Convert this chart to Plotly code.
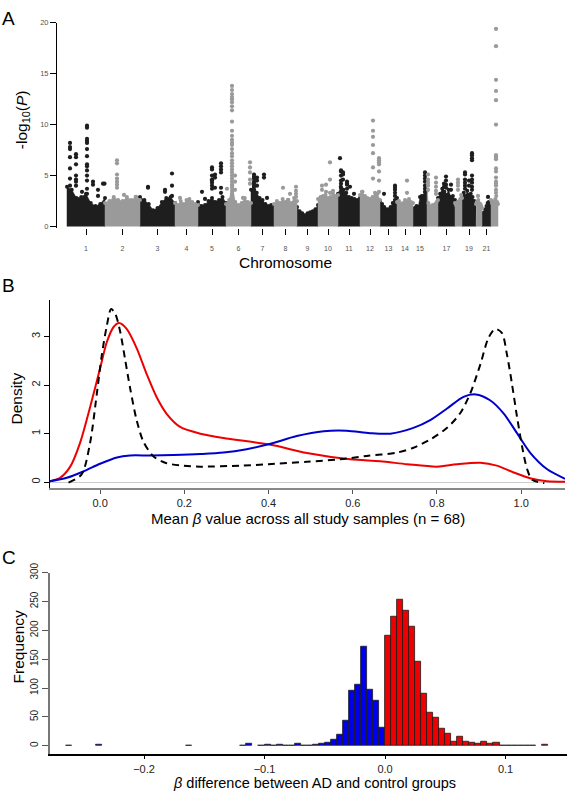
import plotly.graph_objects as go

W, H = 567, 796
FONT = "Liberation Sans, Arial, Helvetica, sans-serif"

# ---------------- Panel A : Manhattan plot ----------------
chrom_labels = ["1", "2", "3", "4", "5", "6", "7", "8", "9", "10", "11",
                "12", "13", "14", "15", "16", "17", "18", "19", "20", "21", "22"]
chrom_label_shown = [True] * 15 + [False, True, False, True, False, True, False]
# relative number of probes per chromosome (plot width units)
chrom_sizes = [380, 350, 350, 230, 280, 250, 230, 230, 210, 200, 220,
               200, 170, 160, 140, 110, 170, 70, 140, 60, 90, 70]
# upper edge of the dense point cloud (-log10 P) across each chromosome
chrom_envelope = [
    [3.9, 3.6, 2.8, 2.9, 3.2, 2.3, 2.0, 2.2, 2.8],
    [2.3, 2.5, 2.9, 2.6, 2.5, 2.9, 2.6, 2.9, 2.6],
    [2.9, 2.6, 2.2, 1.6, 1.8, 2.4, 2.8, 2.9, 2.3],
    [2.3, 2.1, 2.5, 2.2, 2.6, 2.7, 2.4, 2.2, 2.1],
    [2.4, 2.0, 2.1, 2.5, 2.8, 2.4, 2.6, 2.9, 2.3],
    [2.2, 2.6, 4.0, 2.4, 2.1, 2.3, 2.8, 2.4, 2.3],
    [3.6, 4.0, 3.3, 2.8, 2.6, 2.2, 2.0, 2.1, 1.9],
    [2.2, 2.5, 2.3, 2.7, 2.4, 2.6, 2.3, 2.8, 2.5],
    [1.9, 1.5, 1.3, 1.1, 1.3, 1.4, 1.5, 1.7, 2.1],
    [2.7, 2.9, 3.0, 3.1, 2.8, 2.9, 3.2, 3.0, 3.1],
    [3.2, 3.9, 3.6, 3.3, 2.9, 2.8, 2.7, 2.6, 2.8],
    [3.1, 3.4, 3.0, 2.8, 2.7, 2.9, 3.3, 3.2, 2.6],
    [2.5, 2.2, 1.9, 1.7, 1.7, 1.9, 2.3, 2.6, 2.8],
    [2.4, 2.5, 2.2, 2.3, 2.6, 2.5, 2.7, 2.4, 2.3],
    [1.7, 1.8, 2.0, 1.9, 2.9, 3.0, 3.0, 3.3, 3.6],
    [3.5, 2.3, 2.0, 1.9, 2.1, 2.0, 2.2, 2.4, 2.6],
    [2.8, 3.2, 3.7, 3.4, 3.1, 3.6, 2.9, 3.0, 2.6],
    [2.3, 2.1, 2.2, 2.4, 2.2, 2.5, 2.7, 3.1, 2.8],
    [2.8, 3.3, 3.0, 3.5, 3.1, 3.2, 2.9, 2.5, 2.4],
    [2.2, 2.4, 2.2, 2.6, 2.3, 2.1, 2.2, 2.0, 1.8],
    [1.3, 1.2, 1.4, 1.7, 2.0, 2.3, 2.4, 2.2, 2.0],
    [2.6, 2.3, 2.4, 2.2, 2.5, 2.7, 3.0, 2.4, 2.2],
]
# prominent probes: (chromosome, position within chromosome, -log10 P values)
outlier_chrom = [1, 1, 1, 1, 1, 1, 1, 1,
                 2, 2, 2,
                 3, 3, 3,
                 4,
                 5, 5, 5, 5, 5,
                 6, 6, 6, 6, 6,
                 7, 7, 7, 7,
                 8, 8, 8, 8,
                 10, 10, 10, 10,
                 11, 11, 11, 11, 11, 11,
                 12, 12, 12,
                 13, 13,
                 14,
                 15,
                 16, 16,
                 17, 17, 17,
                 18,
                 19, 19, 19,
                 20,
                 21,
                 22]
outlier_pos = [30, 90, 150, 200, 260, 310, 360, 375,
               120, 190, 310,
               80, 250, 320,
               50,
               40, 70, 140, 170, 230,
               10, 60, 90, 170, 240,
               30, 60, 130, 160,
               90, 140, 160, 220,
               40, 80, 120, 150,
               20, 30, 50, 90, 120, 160,
               20, 130, 190,
               40, 150,
               100,
               120,
               10, 90,
               60, 80, 130,
               30,
               30, 70, 100,
               20,
               60,
               50]
outlier_vals = [
    [8.2, 7.8, 7.6, 6.8, 5.7, 4.7, 4.0],
    [7.1, 6.8, 6.1, 5.0, 4.6, 4.4, 4.0],
    [3.4],
    [9.9, 9.7, 8.6, 8.4, 8.2, 7.6, 6.9, 6.1, 5.9, 5.5, 5.0, 4.5, 3.7, 3.2],
    [4.4, 4.1],
    [3.6, 3.0],
    [4.2],
    [4.2],
    [6.5, 6.2, 5.1, 4.7, 4.4, 4.1, 3.8],
    [3.1],
    [2.9],
    [3.9, 3.8],
    [3.6, 3.4],
    [5.2, 4.0, 3.0],
    [2.8],
    [3.4],
    [2.7],
    [5.8, 5.6, 5.0, 4.6, 4.5, 4.3, 4.0, 3.7],
    [5.1, 4.8, 3.8],
    [6.2, 5.9, 5.6, 5.3, 3.8, 3.3],
    [3.7],
    [13.8, 13.4, 13.0, 12.7, 12.5, 12.2, 11.8, 11.4, 10.3, 9.4, 8.9, 8.5, 8.2,
     8.0, 7.6, 7.2, 6.9, 6.5, 6.2, 5.9, 5.6, 5.3, 5.0, 4.7, 4.4, 4.1, 3.8, 3.5, 3.2],
    [5.0, 4.4, 3.6],
    [2.8],
    [6.3, 5.8, 5.3, 4.6, 4.2],
    [5.1, 4.9, 4.7, 4.4, 4.2, 3.9, 3.6],
    [4.8, 4.5, 4.0],
    [5.1, 4.8],
    [2.8],
    [3.8],
    [2.6],
    [3.2],
    [3.9, 3.5, 3.2, 2.9],
    [4.0, 3.6],
    [4.1, 3.4],
    [6.3, 4.6, 3.3],
    [3.5],
    [6.7],
    [5.5, 5.4, 5.0, 4.5, 4.2, 3.8],
    [5.3, 5.1, 4.6],
    [4.4, 4.2, 4.1, 3.7],
    [3.9],
    [3.2],
    [3.4],
    [10.4, 9.4, 8.8, 8.0, 7.2, 5.8, 4.7],
    [6.7, 6.5, 6.3, 6.1, 5.4, 4.5, 3.4],
    [3.2],
    [4.0, 3.8, 3.6, 3.3, 3.0],
    [4.5, 3.3],
    [5.3, 5.0, 4.7, 4.4, 4.0, 3.7, 3.4],
    [5.1, 4.6, 4.3, 4.0, 3.6],
    [4.8, 4.3, 3.9, 3.5, 3.2],
    [4.2, 3.9],
    [4.9, 4.5, 4.1, 3.8],
    [4.1, 3.6],
    [4.6, 4.3, 4.0, 3.6],
    [5.3, 5.1, 4.6, 4.3, 4.0, 3.7],
    [4.5, 4.0],
    [7.2, 7.0, 6.7, 6.5, 5.0, 4.6, 4.3, 3.9, 3.6],
    [3.0],
    [2.9],
    [19.4, 17.7, 14.4, 13.3, 12.4, 10.0, 7.0, 6.8, 6.6, 5.7, 5.4, 4.8, 4.4,
     4.2, 4.0, 3.6, 3.3],
]
manh_colors = ["#1e1e1e", "#9a9a9a"]
a_yticks = [0, 5, 10, 15, 20]

# ---------------- Panel B : density curves ----------------
red_x = [-0.119, -0.095, -0.071, -0.048, -0.024, 0.0, 0.016, 0.032, 0.045, 0.063,
         0.087, 0.111, 0.135, 0.158, 0.19, 0.238, 0.293, 0.4, 0.491, 0.594,
         0.665, 0.729, 0.8, 0.847, 0.903, 0.942, 0.982, 1.021, 1.061, 1.104]
red_y = [0.02, 0.09, 0.32, 0.80, 1.54, 2.35, 2.89, 3.20, 3.28, 3.16,
         2.76, 2.22, 1.74, 1.41, 1.14, 1.00, 0.91, 0.78, 0.60, 0.47,
         0.43, 0.37, 0.32, 0.37, 0.40, 0.34, 0.20, 0.08, 0.02, 0.01]
blue_x = [-0.119, -0.079, -0.040, 0.0, 0.040, 0.071, 0.119, 0.174, 0.238, 0.293,
          0.348, 0.4, 0.467, 0.531, 0.586, 0.641, 0.689, 0.744, 0.784, 0.824,
          0.863, 0.892, 0.926, 0.958, 0.990, 1.021, 1.061, 1.104]
blue_y = [0.02, 0.09, 0.22, 0.38, 0.51, 0.55, 0.55, 0.56, 0.58, 0.61,
          0.68, 0.78, 0.95, 1.05, 1.06, 1.01, 1.00, 1.12, 1.28, 1.52,
          1.76, 1.81, 1.69, 1.42, 1.01, 0.61, 0.27, 0.07]
black_x = [-0.075, -0.044, -0.024, -0.008, 0.004, 0.016, 0.026, 0.036, 0.048, 0.059,
           0.071, 0.087, 0.103, 0.127, 0.158, 0.198, 0.238, 0.333, 0.4, 0.491,
           0.570, 0.633, 0.705, 0.744, 0.784, 0.824, 0.855, 0.879, 0.903, 0.922,
           0.938, 0.954, 0.966, 0.978, 0.990, 1.002, 1.014, 1.026, 1.055]
black_y = [-0.01, 0.16, 0.80, 1.81, 2.62, 3.23, 3.57, 3.47, 3.09, 2.55,
           1.95, 1.27, 0.83, 0.53, 0.39, 0.34, 0.32, 0.34, 0.37, 0.42,
           0.47, 0.54, 0.61, 0.71, 0.88, 1.12, 1.42, 1.83, 2.43, 2.97,
           3.16, 3.08, 2.64, 2.03, 1.35, 0.74, 0.27, 0.05, -0.02]
b_xticks = [0.0, 0.2, 0.4, 0.6, 0.8, 1.0]
b_xticktext = ["0.0", "0.2", "0.4", "0.6", "0.8", "1.0"]
b_yticks = [0, 1, 2, 3]

# ---------------- Panel C : histogram ----------------
hist_start = -0.265
hist_width = 0.005
hist_counts = [1, 0, 0, 0, 0, 2, 0, 0, 0, 0,
               0, 0, 0, 0, 0, 0, 0, 0, 0, 0,
               1, 0, 0, 0, 0, 0, 0, 0, 0, 1,
               4, 0, 1, 2, 1, 2, 1, 1, 4, 1,
               1, 2, 3, 5, 10, 19, 44, 95, 106, 171,
               97, 78, 32, 191, 224, 253, 235, 207, 145, 90,
               58, 49, 30, 21, 7, 15, 7, 5, 3, 7,
               4, 6, 1, 1, 1, 1, 1, 1, 0, 2]
c_xticks = [-0.2, -0.1, 0.0, 0.1]
c_xticktext = ["\u22120.2", "\u22120.1", "0.0", "0.1"]
c_yticks = [0, 50, 100, 150, 200, 250, 300]


def px_x(p):
    return p / W


def px_y(p):
    return 1 - p / H


fig = go.Figure()

# Panel A traces
starts = []
acc = 0
for s in chrom_sizes:
    starts.append(acc)
    acc += s
mids = [st + s / 2 for st, s in zip(starts, chrom_sizes)]

for ci in range(2):
    xs, ys = [], []
    ex, ey = [], []
    for k, (st, s, env) in enumerate(zip(starts, chrom_sizes, chrom_envelope)):
        if k % 2 != ci:
            continue
        n = len(env)
        px = [st + s * j / (n - 1) for j in range(n)]
        xs += [st] + px + [st + s, None]
        ys += [0] + env + [0, None]
        ex += px
        ey += env
    fig.add_trace(go.Scatter(x=xs, y=ys, mode="lines", fill="toself",
                             fillcolor=manh_colors[ci], line=dict(width=0.5, color=manh_colors[ci]),
                             hoverinfo="skip", showlegend=False, xaxis="x", yaxis="y"))
    fig.add_trace(go.Scatter(x=ex, y=ey, mode="markers",
                             marker=dict(size=4, color=manh_colors[ci], line=dict(width=0)),
                             hoverinfo="skip", showlegend=False, xaxis="x", yaxis="y"))

for ci in range(2):
    xs, ys = [], []
    for ch, pos, vals in zip(outlier_chrom, outlier_pos, outlier_vals):
        if (ch - 1) % 2 != ci:
            continue
        for v in vals:
            xs.append(starts[ch - 1] + pos)
            ys.append(v)
    fig.add_trace(go.Scatter(x=xs, y=ys, mode="markers",
                             marker=dict(size=4.2, color=manh_colors[ci], line=dict(width=0)),
                             showlegend=False, xaxis="x", yaxis="y"))

# Panel B traces
fig.add_trace(go.Scatter(x=red_x, y=red_y, mode="lines", line=dict(color="#ee0000", width=2, shape="spline", smoothing=0.8),
                         showlegend=False, xaxis="x2", yaxis="y2"))
fig.add_trace(go.Scatter(x=blue_x, y=blue_y, mode="lines", line=dict(color="#0000cc", width=2, shape="spline", smoothing=0.8),
                         showlegend=False, xaxis="x2", yaxis="y2"))
fig.add_trace(go.Scatter(x=black_x, y=black_y, mode="lines",
                         line=dict(color="black", width=2, dash="7px,5px", shape="spline", smoothing=0.8),
                         showlegend=False, xaxis="x2", yaxis="y2"))

# Panel C traces
centers = [hist_start + hist_width * (i + 0.5) for i in range(len(hist_counts))]
colors = ["#0000ee" if c < 0 else "#ee0000" for c in centers]
edge_w = [0.8 if n > 0 else 0 for n in hist_counts]
fig.add_trace(go.Bar(x=centers, y=hist_counts, width=hist_width,
                     marker=dict(color=colors, line=dict(color="#1a1a1a", width=edge_w)),
                     showlegend=False, xaxis="x3", yaxis="y3"))

tickfont_small = dict(family=FONT, size=7, color="#555555")
tickfont_mid = dict(family=FONT, size=11, color="#222222")

shown_vals = [m for m, sh in zip(mids, chrom_label_shown) if sh]
shown_text = [t for t, sh in zip(chrom_labels, chrom_label_shown) if sh]
hidden_vals = [m for m, sh in zip(mids, chrom_label_shown) if not sh]

a_xdomain = [px_x(57), px_x(502)]
a_xrange = [-100, 4350]

fig.update_layout(
    width=W, height=H, margin=dict(l=0, r=0, t=0, b=0),
    paper_bgcolor="white", plot_bgcolor="white",
    font=dict(family=FONT, color="black"),
    bargap=0,
    xaxis=dict(domain=a_xdomain, range=a_xrange, showline=False,
               showgrid=False, zeroline=False, ticks="outside", ticklen=6, tickwidth=1,
               tickcolor="black", tickvals=shown_vals, ticktext=shown_text,
               tickfont=tickfont_small, ticklabelstandoff=7, anchor="y"),
    xaxis4=dict(domain=a_xdomain, range=a_xrange, showline=False, overlaying="x",
                showgrid=False, zeroline=False, ticks="outside", ticklen=6, tickwidth=1,
                tickcolor="black", tickvals=hidden_vals, showticklabels=False,
                anchor="y", side="bottom"),
    yaxis=dict(domain=[px_y(222), px_y(13)], range=[-0.19, 20], showline=True,
               linecolor="black", linewidth=1, showgrid=False, zeroline=False,
               ticks="outside", ticklen=6, tickcolor="black", tickvals=a_yticks,
               tickfont=dict(family=FONT, size=7.5, color="#555555"), anchor="x"),
    xaxis2=dict(domain=[px_x(50), px_x(565)], range=[-0.119, 1.104], showline=True,
                linecolor="#888888", linewidth=2, showgrid=False, zeroline=False,
                ticks="outside", ticklen=4, tickcolor="#555555", tickvals=b_xticks,
                ticktext=b_xticktext, tickfont=tickfont_mid, anchor="y2"),
    yaxis2=dict(domain=[px_y(486), px_y(295)], range=[-0.122, 3.753], showline=True,
                linecolor="black", linewidth=1, showgrid=False, zeroline=True,
                zerolinecolor="#cccccc", zerolinewidth=1,
                ticks="outside", ticklen=5, tickcolor="black", tickvals=b_yticks,
                tickangle=-90, tickfont=tickfont_mid, anchor="x2"),
    xaxis3=dict(domain=[px_x(50), 1.0], range=[-0.278, 0.151], showline=True,
                linecolor="black", linewidth=1.5, showgrid=False, zeroline=False,
                ticks="outside", ticklen=4, tickcolor="black", tickvals=c_xticks,
                ticktext=c_xticktext, tickfont=tickfont_mid, anchor="y3"),
    yaxis3=dict(domain=[px_y(756), px_y(572)], range=[-13.6, 300], showline=True,
                linecolor="#777777", linewidth=1.5, showgrid=False, zeroline=False,
                ticks="outside", ticklen=6, tickcolor="#555555", tickvals=c_yticks,
                tickangle=-90, tickfont=dict(family=FONT, size=10, color="#222222"),
                anchor="x3"),
)

ann = []


def add_text(text, xp, yp, size, angle=0, xanchor="center"):
    ann.append(dict(text=text, x=px_x(xp), y=px_y(yp), xref="paper", yref="paper",
                    showarrow=False, textangle=angle, xanchor=xanchor, yanchor="middle",
                    font=dict(family=FONT, size=size, color="black")))


add_text("A", 0, 9, 19, xanchor="left")
add_text("B", 0, 280, 19, xanchor="left")
add_text("C", 0, 557, 19, xanchor="left")
add_text("Chromosome", 285, 257, 15.5)
add_text("-log<sub>10</sub>(<i>P</i>)", 22, 112, 15.5, angle=-90)
add_text("Density", 17, 395, 15.5, angle=-90)
add_text("Mean <i>\u03b2</i> value across all study samples (n = 68)", 308, 517, 15)
add_text("Frequency", 18, 648, 15.5, angle=-90)
add_text("<i>\u03b2</i> difference between AD and control groups", 314, 786, 14.5)
fig.update_layout(annotations=ann)

fig.write_html(
    "out.html",
    config={"displayModeBar": False, "responsive": False},
    post_script=(
        "var gd=document.getElementById('{plot_id}');"
        "gd.style.position='fixed';gd.style.left='0px';gd.style.top='0px';"
        "document.body.style.margin='0';document.body.style.padding='0';"
        "document.documentElement.style.overflow='hidden';"
    ),
)
